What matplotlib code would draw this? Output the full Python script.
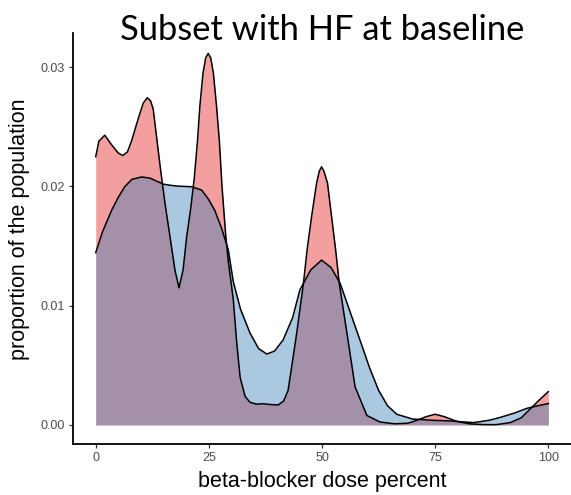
import matplotlib
matplotlib.use("Agg")
import matplotlib.pyplot as plt

# Red (narrow, spiky) density curve
red_x = [0, 0.7, 2.0, 3.5, 5.0, 6.0, 7.0, 7.9, 9.4, 10.5, 11.4, 12.1, 12.7, 13.4, 14.2, 15.3,
         16.4, 17.5, 18.4, 19.3, 20.1, 21.0, 21.8, 22.5, 23.0, 23.7, 24.3, 24.85, 25.4, 26.0,
         26.7, 27.3, 27.9, 28.7, 29.3, 30.4, 31.1, 31.9, 33.0, 34.1, 35.5, 37.0, 38.5, 40.3,
         41.5, 42.5, 43.3, 44.4, 45.9, 46.7, 47.7, 48.8, 49.4, 49.9, 50.4, 51.2, 52.1, 53.0,
         53.8, 55.5, 57.3, 59.9, 62.8, 66.0, 69.0, 71.0, 73.0, 75.0, 77.0, 79.8, 82.5, 85.7,
         88.5, 91.6, 94.0, 96.4, 98.0, 100]
red_y = [0.0225, 0.0238, 0.0243, 0.0235, 0.0228, 0.0226, 0.0229, 0.0238, 0.0257, 0.0270, 0.02744,
         0.0272, 0.0265, 0.0243, 0.0218, 0.0186, 0.0158, 0.0130, 0.0115, 0.0130, 0.0158, 0.0182,
         0.0208, 0.0239, 0.0267, 0.0295, 0.0308, 0.03116, 0.0308, 0.0295, 0.0267, 0.0239,
         0.0200, 0.0160, 0.0137, 0.0105, 0.0071, 0.0040, 0.0024, 0.0019, 0.00175, 0.00178,
         0.00172, 0.00168, 0.0020, 0.0029, 0.0049, 0.0077, 0.0119, 0.0147, 0.0175, 0.0203,
         0.0213, 0.02165, 0.0213, 0.0203, 0.0175, 0.0147, 0.0119, 0.0077, 0.0032, 0.0008,
         0.00025, 0.0001, 0.00015, 0.0004, 0.0007, 0.0009, 0.0007, 0.0003, 0.0001, 0.00003,
         0.00003, 0.0002, 0.0006, 0.0015, 0.0021, 0.0028]

# Blue (smooth) density curve
blue_x = [0, 1.5, 3.5, 5.0, 6.4, 8.0, 10.1, 12.0, 14.9, 16.5, 18.2, 21.2, 23.4, 24.8, 26.3,
          27.8, 29.3, 30.4, 32.0, 34.1, 36.0, 37.8, 39.5, 41.4, 43.5, 45.1, 47.5, 49.9, 52.0,
          54.0, 56.0, 58.4, 60.5, 62.5, 64.5, 66.5, 70.0, 74.0, 78.3, 83.5, 87.0, 89.4, 92.5,
          95.3, 97.5, 100]
blue_y = [0.01445, 0.0162, 0.0180, 0.0191, 0.01998, 0.0206, 0.0208, 0.0207, 0.0202, 0.0201,
          0.02003, 0.01998, 0.0197, 0.0190, 0.0180, 0.0165, 0.01467, 0.0120, 0.0097, 0.0077,
          0.0064, 0.00595, 0.0062, 0.00713, 0.0090, 0.01132, 0.0130, 0.01383, 0.0132, 0.01188,
          0.0097, 0.0071, 0.0048, 0.0029, 0.0016, 0.0009, 0.0005, 0.0004, 0.00034, 0.0002,
          0.0004, 0.00064, 0.0010, 0.0014, 0.0016, 0.0018]

x_ticks = [0, 25, 50, 75, 100]
y_ticks = [0.00, 0.01, 0.02, 0.03]
y_tick_labels = ["0.00", "0.01", "0.02", "0.03"]

title = "Subset with HF at baseline"
x_label = "beta-blocker dose percent"
y_label = "proportion of the population"

W, H = 571, 495
fig = plt.figure(figsize=(W / 100, H / 100), dpi=100)
ax = fig.add_axes([0.128, 0.1036, 0.872, 0.8304])

alpha = 0.42
ax.fill_between(red_x, 0, red_y, color="#E41A1C", alpha=alpha, linewidth=0)
ax.plot(red_x, red_y, color="black", lw=1.1, solid_joinstyle="round")
ax.fill_between(blue_x, 0, blue_y, color="#377EB8", alpha=alpha, linewidth=0)
ax.plot(blue_x, blue_y, color="black", lw=1.1, solid_joinstyle="round")

ax.set_xlim(-5, 105)
ax.set_ylim(-0.00157, 0.0329)
ax.set_xticks(x_ticks)
ax.set_xticklabels([str(v) for v in x_ticks])
ax.set_yticks(y_ticks)
ax.set_yticklabels(y_tick_labels)

for s in ["top", "right"]:
    ax.spines[s].set_visible(False)
for s in ["left", "bottom"]:
    ax.spines[s].set_linewidth(1.3)
    ax.spines[s].set_color("black")

ax.tick_params(axis="both", length=3, width=0.9, color="#333333",
               labelcolor="#4D4D4D", labelsize=9, pad=3)
for lbl in ax.get_xticklabels() + ax.get_yticklabels():
    lbl.set_family("Liberation Sans")

fig.text(322 / W, 1 - 487 / H, x_label, ha="center", va="baseline",
         fontsize=15.5, family="Liberation Sans", color="black")
fig.text(20 / W, 1 - 229 / H, y_label, ha="center", va="center", rotation=90,
         fontsize=15.5, family="Liberation Sans", color="black")
fig.text(322 / W, 1 - 40 / H, title, ha="center", va="baseline",
         fontsize=24.8, family="Lato", color="black")

fig.savefig("out.png", dpi=100)
